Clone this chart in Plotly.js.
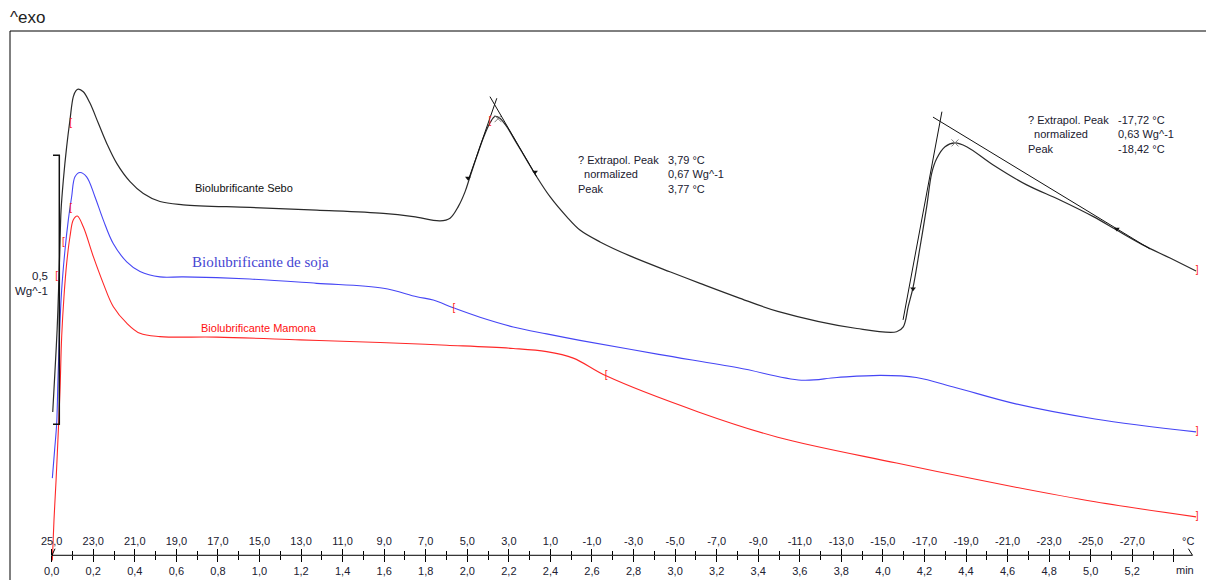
<!DOCTYPE html>
<html>
<head>
<meta charset="utf-8">
<script src="https://cdn.plot.ly/plotly-3.0.1.min.js"></script>
<style>html,body{margin:0;padding:0;background:#fff;}#chart{width:1206px;height:580px;}</style>
</head>
<body>
<div id="chart"></div>
<script>
// ---- axis ticks (time in min, temperature in °C) ----
const timeTicks  = [0,0.2,0.4,0.6,0.8,1.0,1.2,1.4,1.6,1.8,2.0,2.2,2.4,2.6,2.8,3.0,3.2,3.4,3.6,3.8,4.0,4.2,4.4,4.6,4.8,5.0,5.2,5.4];
const timeLabels = ['0,0','0,2','0,4','0,6','0,8','1,0','1,2','1,4','1,6','1,8','2,0','2,2','2,4','2,6','2,8','3,0','3,2','3,4','3,6','3,8','4,0','4,2','4,4','4,6','4,8','5,0','5,2',''];
const tempLabels = ['25,0','23,0','21,0','19,0','17,0','15,0','13,0','11,0','9,0','7,0','5,0','3,0','1,0','-1,0','-3,0','-5,0','-7,0','-9,0','-11,0','-13,0','-15,0','-17,0','-19,0','-21,0','-23,0','-25,0','-27,0',''];
const minorTicks = [0.1,0.3,0.5,0.7,0.9,1.1,1.3,1.5,1.7,1.9,2.1,2.3,2.5,2.7,2.9,3.1,3.3,3.5,3.7,3.9,4.1,4.3,4.5,4.7,4.9,5.1,5.3];

// ---- curves: time (min) and heat flow (W/g, relative) ----
const seboTime = [0.005,0.016,0.026,0.033,0.039,0.045,0.056,0.072,0.088,0.104,0.117,0.128,0.152,0.184,0.224,0.265,0.313,0.377,0.441,0.521,0.633,0.954,1.275,1.596,1.740,1.869,1.917,1.957,1.989,2.013,2.045,2.077,2.109,2.133,2.157,2.190,2.238,2.286,2.334,2.398,2.478,2.542,2.639,2.783,2.978,3.120,3.300,3.494,3.875,4.066,4.098,4.122,4.146,4.179,4.211,4.235,4.259,4.299,4.347,4.403,4.531,4.692,4.852,5.013,5.125,5.253,5.382,5.507];
const seboHF   = [0.023,0.101,0.175,0.250,0.324,0.398,0.454,0.516,0.566,0.609,0.620,0.623,0.618,0.597,0.560,0.522,0.485,0.451,0.429,0.414,0.408,0.403,0.398,0.392,0.386,0.378,0.383,0.405,0.432,0.460,0.497,0.532,0.560,0.572,0.569,0.553,0.522,0.491,0.460,0.423,0.386,0.361,0.339,0.313,0.283,0.262,0.236,0.210,0.178,0.172,0.181,0.219,0.256,0.330,0.405,0.467,0.494,0.516,0.523,0.516,0.482,0.445,0.417,0.386,0.361,0.333,0.309,0.285];

const sojaTime = [0.003,0.014,0.024,0.030,0.037,0.048,0.064,0.080,0.096,0.112,0.136,0.168,0.208,0.248,0.296,0.361,0.425,0.521,0.633,0.954,1.275,1.596,1.757,1.836,1.936,2.061,2.221,2.382,2.542,2.921,3.303,3.608,3.779,3.990,4.161,4.352,4.639,5.021,5.507];
const sojaHF   = [-0.100,-0.048,0.002,0.082,0.163,0.250,0.324,0.380,0.423,0.460,0.468,0.460,0.423,0.380,0.336,0.302,0.284,0.274,0.274,0.270,0.262,0.253,0.237,0.231,0.216,0.199,0.181,0.168,0.156,0.130,0.105,0.082,0.087,0.091,0.087,0.068,0.038,0.010,-0.014];

const mamonaTime = [0.003,0.011,0.021,0.032,0.040,0.048,0.059,0.072,0.088,0.104,0.123,0.152,0.200,0.248,0.296,0.361,0.425,0.521,0.794,1.195,1.580,1.901,2.221,2.382,2.510,2.668,3.112,3.494,4.066,4.639,5.021,5.507];
const mamonaHF   = [-0.253,-0.178,-0.104,-0.011,0.064,0.163,0.237,0.299,0.349,0.380,0.387,0.367,0.312,0.262,0.219,0.188,0.169,0.163,0.162,0.157,0.152,0.147,0.141,0.135,0.123,0.090,0.023,-0.024,-0.072,-0.117,-0.144,-0.172];

// ---- evaluation constructions ----
const tan1aTime = [2.109,2.334], tan1aHF = [0.609,0.460];
const tan1bTime = [2.142,2.005], tan1bHF = [0.606,0.454];
const tan2aTime = [4.284,4.097], tan2aHF = [0.581,0.194];
const tan2bTime = [4.241,5.285], tan2bHF = [0.571,0.326];
const peakTime = [2.148,4.347], peakHF = [0.568,0.523];
const arrowTime = [2.003,2.326,4.145,5.126], arrowHF = [0.458,0.469,0.252,0.363];
const limStartTime = [0.091,0.091,0.056,0.024,2.109,1.936,2.668];
const limStartHF   = [0.560,0.402,0.338,0.274,0.563,0.216,0.090];
const limEndTime = [5.512,5.512,5.512];
const limEndHF   = [0.285,-0.014,-0.172];
const scaleBarTime = [0.0063,0.0366,0.0366,0.0063];
const scaleBarHF   = [0.5,0.5,0,0];

const FONT = 'Liberation Sans, Arial, sans-serif';
const TXT = '#202030';
const SM = 1.0;

const traces = [
  {x: seboTime, y: seboHF, mode:'lines', line:{color:'#2a2a2a', width:1.2, shape:'spline', smoothing:SM}},
  {x: sojaTime, y: sojaHF, mode:'lines', line:{color:'rgb(70,70,245)', width:1.1, shape:'spline', smoothing:SM}},
  {x: mamonaTime, y: mamonaHF, mode:'lines', line:{color:'rgb(255,40,40)', width:1.1, shape:'spline', smoothing:SM}},
  {x: tan1aTime, y: tan1aHF, mode:'lines', line:{color:'#111', width:1}},
  {x: tan1bTime, y: tan1bHF, mode:'lines', line:{color:'#111', width:1}},
  {x: tan2aTime, y: tan2aHF, mode:'lines', line:{color:'#111', width:1}},
  {x: tan2bTime, y: tan2bHF, mode:'lines', line:{color:'#111', width:1}},
  {x: peakTime, y: peakHF, mode:'markers', marker:{symbol:'x-thin-open', size:7, line:{color:'#444', width:1}}},
  {x: arrowTime, y: arrowHF, mode:'markers', marker:{symbol:'triangle-down', size:5, color:'#111'}},
  {x: limStartTime, y: limStartHF, mode:'text', text: limStartTime.map(()=>'['), textfont:{color:'#ff2020', size:10, family:FONT}},
  {x: limEndTime, y: limEndHF, mode:'text', text: limEndTime.map(()=>']'), textfont:{color:'#ff2020', size:10, family:FONT}},
  {x: scaleBarTime, y: scaleBarHF, mode:'lines', line:{color:'#111', width:1.5}},
  // carrier for the temperature axis (invisible)
  {x: [timeTicks[0], timeTicks[timeTicks.length-1]], y: [0,0], xaxis:'x2', mode:'markers', marker:{opacity:0}}
];

const AXPOS = 0.045;
const layout = {
  width:1206, height:580,
  margin:{l:10, r:0, t:31, b:0, pad:0},
  paper_bgcolor:'#fff', plot_bgcolor:'#fff',
  showlegend:false, hovermode:false,
  font:{family:FONT, size:11, color:TXT},
  xaxis:{
    range:[-0.2007,5.5549], anchor:'free', position:AXPOS, side:'bottom',
    showgrid:false, zeroline:false, showline:false,
    tickmode:'array', tickvals: timeTicks, ticktext: timeLabels,
    ticks:'outside', ticklen:6, tickwidth:1, tickcolor:'#000',
    tickfont:{family:FONT, size:11, color:TXT},
    minor:{tickmode:'array', tickvals: minorTicks, ticks:'outside', ticklen:4, tickwidth:1, tickcolor:'#000', showgrid:false}
  },
  xaxis2:{
    range:[-0.2007,5.5549], overlaying:'x', anchor:'free', position:AXPOS, side:'top',
    showgrid:false, zeroline:false, showline:false,
    tickmode:'array', tickvals: timeTicks, ticktext: tempLabels,
    ticks:'outside', ticklen:6, tickwidth:1, tickcolor:'#000',
    tickfont:{family:FONT, size:11, color:TXT},
    minor:{tickmode:'array', tickvals: minorTicks, ticks:'outside', ticklen:4, tickwidth:1, tickcolor:'#000', showgrid:false}
  },
  yaxis:{range:[-0.2894,0.7310], visible:false, fixedrange:true},
  shapes:[
    {type:'line', xref:'paper', yref:'paper', x0:0, x1:0, y0:0, y1:1, line:{color:'#000', width:1}},
    {type:'line', xref:'paper', yref:'paper', x0:0, x1:1, y0:1, y1:1, line:{color:'#000', width:1}},
    {type:'line', xref:'x', yref:'paper', x0:0, x1:5.49, y0:AXPOS, y1:AXPOS, line:{color:'#000', width:1}},
    {type:'line', xref:'x', yref:'paper', x0:0, x1:0.016, y0:AXPOS-0.001, y1:AXPOS+0.012, line:{color:'#000', width:1}},
    {type:'line', xref:'x', yref:'paper', x0:5.47, x1:5.49, y0:AXPOS+0.012, y1:AXPOS, line:{color:'#000', width:1}}
  ],
  annotations:[
    {xref:'paper', yref:'paper', x:-0.002, y:1.024, xanchor:'left', yanchor:'middle', text:'^exo', showarrow:false, font:{family:FONT, size:17, color:'#222'}},
    {xref:'x', yref:'y', x:-0.008, y:0.2757, xanchor:'right', yanchor:'middle', text:'0,5', showarrow:false, font:{family:FONT, size:11.5, color:TXT}},
    {xref:'x', yref:'y', x:-0.008, y:0.2478, xanchor:'right', yanchor:'middle', text:'Wg^-1', showarrow:false, font:{family:FONT, size:11.5, color:TXT}},
    {xref:'x', yref:'y', x:0.6814, y:0.4387, xanchor:'left', yanchor:'middle', text:'Biolubrificante Sebo', showarrow:false, font:{family:FONT, size:11, color:'#111'}},
    {xref:'x', yref:'y', x:0.6655, y:0.3022, xanchor:'left', yanchor:'middle', text:'Biolubrificante de soja', showarrow:false, font:{family:'Liberation Serif, Times New Roman, serif', size:15, color:'rgb(70,70,210)'}},
    {xref:'x', yref:'y', x:0.7103, y:0.1784, xanchor:'left', yanchor:'middle', text:'Biolubrificante Mamona', showarrow:false, font:{family:FONT, size:11, color:'#ff1010'}},
    {xref:'x', yref:'y', x:2.5231, y:0.4652, xanchor:'left', yanchor:'middle', align:'left', text:'? Extrapol. Peak<br>\u00a0\u00a0normalized<br>Peak', showarrow:false, font:{family:FONT, size:11, color:TXT}},
    {xref:'x', yref:'y', x:2.9562, y:0.4652, xanchor:'left', yanchor:'middle', align:'left', text:'3,79 °C<br>0,67 Wg^-1<br>3,77 °C', showarrow:false, font:{family:FONT, size:11, color:TXT}},
    {xref:'x', yref:'y', x:4.6872, y:0.5387, xanchor:'left', yanchor:'middle', align:'left', text:'? Extrapol. Peak<br>\u00a0\u00a0normalized<br>Peak', showarrow:false, font:{family:FONT, size:11, color:TXT}},
    {xref:'x', yref:'y', x:5.1203, y:0.5387, xanchor:'left', yanchor:'middle', align:'left', text:'-17,72 °C<br>0,63 Wg^-1<br>-18,42 °C', showarrow:false, font:{family:FONT, size:11, color:TXT}},
    {xref:'x', yref:'paper', x:5.468, y:AXPOS, xanchor:'center', yanchor:'bottom', yshift:6, text:'°C', showarrow:false, font:{family:FONT, size:11, color:TXT}},
    {xref:'x', yref:'paper', x:5.454, y:AXPOS, xanchor:'center', yanchor:'top', yshift:-7, text:'min', showarrow:false, font:{family:FONT, size:11, color:TXT}}
  ]
};

Plotly.newPlot('chart', traces, layout, {staticPlot:true, displayModeBar:false});
</script>
</body>
</html>
